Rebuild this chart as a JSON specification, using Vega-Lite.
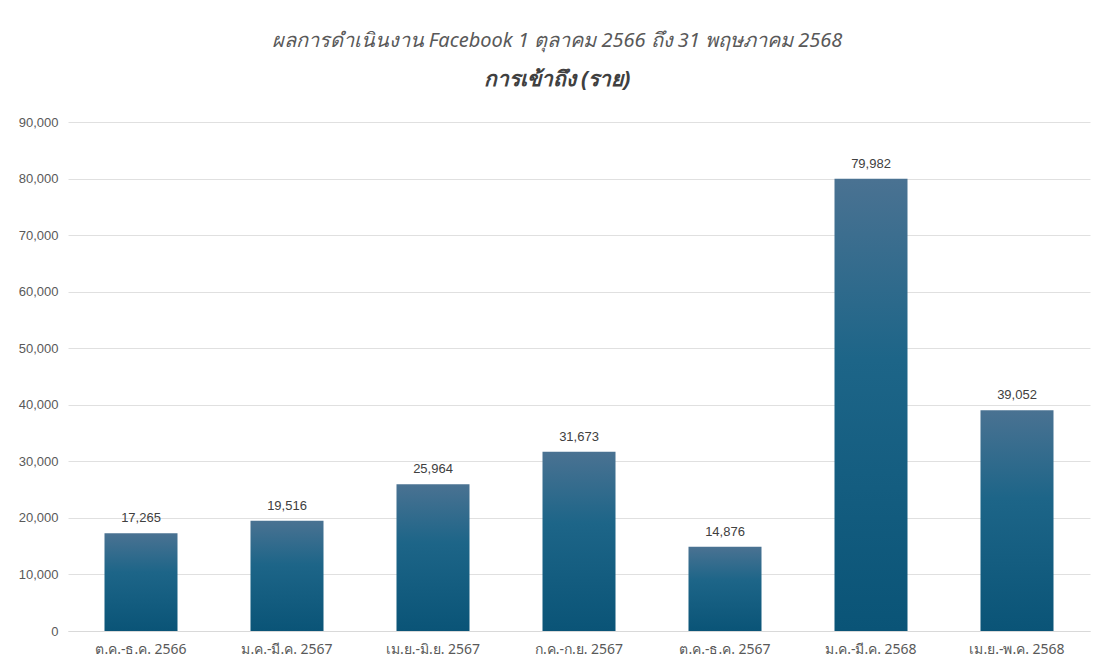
{
  "$schema": "https://vega.github.io/schema/vega-lite/v6.json",
  "width": 1022,
  "height": 509,
  "autosize": {"type": "none"},
  "padding": {"left": 68, "top": 122, "right": 11, "bottom": 31},
  "background": "white",
  "title": {
    "text": "ผลการดำเนินงาน Facebook 1 ตุลาคม 2566 ถึง 31 พฤษภาคม 2568",
    "subtitle": "การเข้าถึง (ราย)",
    "anchor": "middle",
    "dx": -22,
    "font": "Noto Sans",
    "fontSize": 20,
    "fontStyle": "italic",
    "fontWeight": "normal",
    "color": "#595959",
    "subtitleFont": "Noto Sans",
    "subtitleFontSize": 21,
    "subtitleFontStyle": "italic",
    "subtitleFontWeight": "bold",
    "subtitleColor": "#404040",
    "subtitlePadding": 18,
    "offset": 26
  },
  "data": {
    "values": [
      {"period": "ต.ค.-ธ.ค. 2566", "reach": 17265},
      {"period": "ม.ค.-มี.ค. 2567", "reach": 19516},
      {"period": "เม.ย.-มิ.ย. 2567", "reach": 25964},
      {"period": "ก.ค.-ก.ย. 2567", "reach": 31673},
      {"period": "ต.ค.-ธ.ค. 2567", "reach": 14876},
      {"period": "ม.ค.-มี.ค. 2568", "reach": 79982},
      {"period": "เม.ย.-พ.ค. 2568", "reach": 39052}
    ]
  },
  "encoding": {
    "x": {
      "field": "period",
      "type": "nominal",
      "sort": null,
      "scale": {"paddingInner": 0.5, "paddingOuter": 0.25},
      "axis": {
        "title": null,
        "labelAngle": 0,
        "labelFont": "Noto Sans",
        "labelFontSize": 14,
        "labelColor": "#595959",
        "labelPadding": 11,
        "domainColor": "#d9d9d9",
        "ticks": false
      }
    },
    "y": {
      "field": "reach",
      "type": "quantitative",
      "scale": {"domain": [0, 90000]},
      "axis": {
        "title": null,
        "values": [0, 10000, 20000, 30000, 40000, 50000, 60000, 70000, 80000, 90000],
        "format": ",d",
        "labelFont": "Liberation Sans",
        "labelFontSize": 13,
        "labelColor": "#595959",
        "labelPadding": 10,
        "domain": false,
        "ticks": false,
        "gridColor": "#e0e0e0"
      }
    }
  },
  "layer": [
    {
      "mark": {
        "type": "bar",
        "color": {
          "gradient": "linear",
          "x1": 0, "y1": 0, "x2": 0, "y2": 1,
          "stops": [
            {"offset": 0, "color": "#4a7292"},
            {"offset": 0.4, "color": "#1d6588"},
            {"offset": 1, "color": "#0a5477"}
          ]
        }
      }
    },
    {
      "mark": {
        "type": "text",
        "dy": -15,
        "font": "Liberation Sans",
        "fontSize": 13,
        "color": "#404040"
      },
      "encoding": {
        "text": {"field": "reach", "type": "quantitative", "format": ",d"}
      }
    }
  ],
  "config": {"view": {"stroke": null}}
}
